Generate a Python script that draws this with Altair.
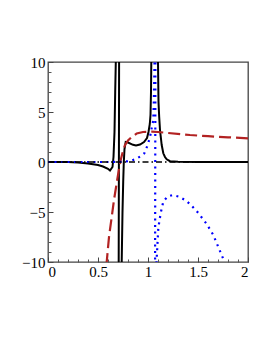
import altair as alt
import pandas as pd

# ---- curve data ----
black_x = [0.0, 0.1, 0.2, 0.3, 0.4, 0.5, 0.55, 0.6, 0.62, 0.645, 0.655, 0.665, 0.672, 0.678, 0.682,
           0.712, 0.706, 0.732, 0.737, 0.745, 0.752, 0.758, 0.765, 0.777, 0.8, 0.85, 0.88, 0.92, 0.96,
           0.99, 1.005, 1.018, 1.025, 1.03, 1.033, 1.036,
           1.097, 1.1, 1.105, 1.112, 1.12, 1.137, 1.153, 1.17, 1.187, 1.22, 1.3, 1.5, 2.0]
black_y = [0.0, 0.0, -0.01, -0.05, -0.15, -0.3, -0.45, -0.68, -0.85, -0.5, 0.5, 3.0, 7.0, 10.0, 15.0,
           15.0, -15.0, -15.0, -10.0, -5.0, -2.0, 0.0, 1.3, 2.0, 1.95, 1.72, 1.66, 1.75, 2.0,
           2.4, 3.0, 3.8, 4.7, 7.0, 10.0, 15.0,
           15.0, 10.0, 6.0, 4.5, 3.2, 1.7, 0.87, 0.5, 0.27, 0.08, 0.02, 0.0, 0.0]

brown_x = [0.575, 0.587, 0.61, 0.637, 0.66, 0.687, 0.71, 0.727, 0.75, 0.77, 0.8, 0.837, 0.887,
           0.95, 1.037, 1.1, 1.2, 1.42, 1.6, 1.8, 2.0]
brown_y = [-12.0, -10.0, -7.5, -5.5, -3.8, -2.1, -0.7, 0.2, 1.1, 1.7, 2.15, 2.5, 2.85,
           3.0, 3.03, 3.0, 2.9, 2.7, 2.58, 2.47, 2.37]

blue_x = [0.0, 0.2, 0.4, 0.6, 0.75, 0.82, 0.88, 0.93, 0.963, 0.997, 1.02, 1.037, 1.053, 1.058,
          1.062, 1.065, 1.067, 1.075, 1.07, 1.079, 1.085, 1.103, 1.127, 1.153, 1.193, 1.247,
          1.313, 1.37, 1.42, 1.503, 1.587, 1.653, 1.703, 1.753, 1.77]
blue_y = [0.0, 0.0, 0.0, 0.0, 0.02, 0.1, 0.3, 0.6, 0.87, 1.7, 2.5, 3.4, 4.2, 6.0,
          8.0, 10.0, 15.0, 15.0, -15.0, -15.0, -10.0, -6.6, -5.1, -3.97, -3.47, -3.3,
          -3.47, -3.8, -4.2, -5.1, -6.2, -7.3, -8.5, -9.7, -10.3]

zero_x = [0.0, 2.0]
zero_y = [0.0, 0.0]

# ---- axis ticks ----
x_major = [0, 0.5, 1, 1.5, 2]
x_minor = [0.1, 0.2, 0.3, 0.4, 0.6, 0.7, 0.8, 0.9, 1.1, 1.2, 1.3, 1.4, 1.6, 1.7, 1.8, 1.9]
y_major = [-10, -5, 0, 5, 10]
y_minor = [-9, -8, -7, -6, -4, -3, -2, -1, 1, 2, 3, 4, 6, 7, 8, 9]

W, H = 200, 200
FONT = "Liberation Serif"


def frame(xs, ys):
    return pd.DataFrame({"x": xs, "y": ys, "i": list(range(len(xs)))})


xs = alt.Scale(domain=[0, 2], nice=False, zero=False)
ys = alt.Scale(domain=[-10, 10], nice=False, zero=False)

ax_x_labels = alt.Axis(values=x_major, format="~g", ticks=False, domain=False, grid=False,
                       labelFont=FONT, labelFontSize=15, labelColor="black", labelPadding=2,
                       title=None)
ax_y_labels = alt.Axis(values=y_major, format="d", ticks=False, domain=False, grid=False,
                       labelFont=FONT, labelFontSize=15, labelColor="black", labelPadding=3,
                       title=None)
ax_x_major = alt.Axis(orient="top", offset=-H, values=x_major, labels=False, domain=False,
                      grid=False, ticks=True, tickSize=5, tickColor="#444", title=None)
ax_y_major = alt.Axis(orient="right", offset=-W, values=y_major, labels=False, domain=False,
                      grid=False, ticks=True, tickSize=5, tickColor="#444", title=None)
ax_x_minor = alt.Axis(orient="top", offset=-H, values=x_minor, labels=False, domain=False,
                      grid=False, ticks=True, tickSize=3, tickColor="#555", title=None)
ax_y_minor = alt.Axis(orient="right", offset=-W, values=y_minor, labels=False, domain=False,
                      grid=False, ticks=True, tickSize=3, tickColor="#555", title=None)

black = alt.Chart(frame(black_x, black_y)).mark_line(
    color="black", strokeWidth=2, clip=True
).encode(
    x=alt.X("x:Q", scale=xs, axis=ax_x_labels),
    y=alt.Y("y:Q", scale=ys, axis=ax_y_labels),
    order="i:Q",
)

brown = alt.Chart(frame(brown_x, brown_y)).mark_line(
    color="#b22222", strokeWidth=2.2, strokeDash=[12, 5], clip=True
).encode(
    x=alt.X("x:Q", scale=xs, axis=ax_x_major),
    y=alt.Y("y:Q", scale=ys, axis=ax_y_major),
    order="i:Q",
)

blue = alt.Chart(frame(blue_x, blue_y)).mark_line(
    color="#0000ff", strokeWidth=2.2, strokeDash=[2, 4.5], clip=True
).encode(
    x=alt.X("x:Q", scale=xs, axis=ax_x_minor),
    y=alt.Y("y:Q", scale=ys, axis=ax_y_minor),
    order="i:Q",
)

zero = alt.Chart(frame(zero_x, zero_y)).mark_line(
    color="black", strokeWidth=1.6, strokeDash=[6, 3, 1.5, 3], clip=True
).encode(
    x=alt.X("x:Q", scale=xs, axis=None),
    y=alt.Y("y:Q", scale=ys, axis=None),
    order="i:Q",
)

chart = alt.layer(black, brown, blue, zero).resolve_axis(
    x="independent", y="independent"
).properties(
    width=W, height=H,
    background="white",
    autosize=alt.AutoSizeParams(type="none"),
    padding={"left": 40, "top": 54, "right": 17, "bottom": 83},
).configure_axis(
    labelFont=FONT, labelFontSize=15, labelColor="black"
).configure_view(
    stroke="#444", strokeWidth=1.3
)

chart.save("out.html", embed_options={"renderer": "svg", "actions": False})
